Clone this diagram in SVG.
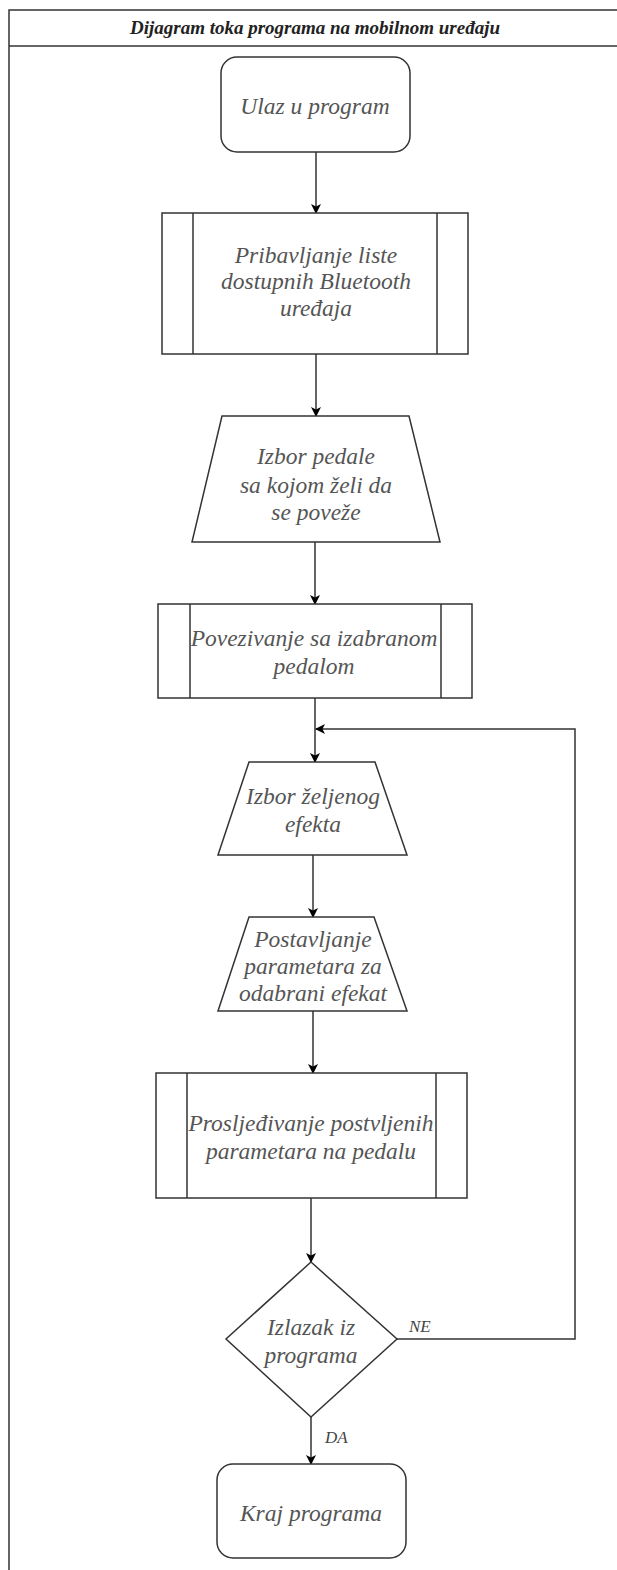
<svg xmlns="http://www.w3.org/2000/svg" width="617" height="1570" viewBox="0 0 617 1570">
<defs>
<marker id="arr" markerWidth="10" markerHeight="10" refX="9" refY="5" orient="auto" markerUnits="userSpaceOnUse">
<path d="M0,0 L10,5 L0,10 L2.5,5 Z" fill="#000"/>
</marker>
<style>
.s{fill:#fff;stroke:#333;stroke-width:1.5}
.l{fill:none;stroke:#333;stroke-width:1.5}
.c{fill:none;stroke:#333;stroke-width:1.5;marker-end:url(#arr)}
.t{font-family:"Liberation Serif","DejaVu Serif",serif;font-style:italic;font-size:23.5px;fill:#555;text-anchor:middle}
.lb{font-family:"Liberation Serif","DejaVu Serif",serif;font-style:italic;font-size:17px;fill:#444}
.h{font-family:"Liberation Serif","DejaVu Serif",serif;font-style:italic;font-weight:bold;font-size:19px;fill:#222;text-anchor:middle}
</style>
</defs>
<g id="frame">
<rect x="9" y="10" width="640" height="1600" fill="#fff" stroke="#333" stroke-width="1.5"/>
<line x1="9" y1="46" x2="617" y2="46" class="l"/>
<text x="315" y="34" class="h">Dijagram toka programa na mobilnom uređaju</text>
</g>
<g id="connectors">
<line x1="316" y1="152" x2="316" y2="213" class="c"/>
<line x1="316" y1="354" x2="316" y2="416" class="c"/>
<line x1="315" y1="542" x2="315" y2="604" class="c"/>
<line x1="315" y1="698" x2="315" y2="762" class="c"/>
<polyline points="397,1339 575,1339 575,729 316,729" class="c"/>
<line x1="313" y1="855" x2="313" y2="917" class="c"/>
<line x1="313" y1="1011" x2="313" y2="1073" class="c"/>
<line x1="311" y1="1198" x2="311" y2="1262" class="c"/>
<line x1="311" y1="1417" x2="311" y2="1464" class="c"/>
<text x="409" y="1332" class="lb">NE</text>
<text x="325" y="1443" class="lb">DA</text>
</g>
<g id="start">
<rect x="221" y="57" width="189" height="95" rx="16" class="s"/>
<text x="315" y="114" class="t">Ulaz u program</text>
</g>
<g id="p1">
<rect x="162" y="213" width="306" height="141" class="s"/>
<line x1="193" y1="213" x2="193" y2="354" class="l"/>
<line x1="437" y1="213" x2="437" y2="354" class="l"/>
<text x="316" y="263" class="t">Pribavljanje liste</text>
<text x="316" y="289" class="t">dostupnih Bluetooth</text>
<text x="316" y="316" class="t">uređaja</text>
</g>
<g id="io1">
<polygon points="222,416 409,416 440,542 192,542" class="s"/>
<text x="316" y="464" class="t">Izbor pedale</text>
<text x="316" y="493" class="t">sa kojom želi da</text>
<text x="316" y="520" class="t">se poveže</text>
</g>
<g id="p2">
<rect x="158" y="604" width="314" height="94" class="s"/>
<line x1="190" y1="604" x2="190" y2="698" class="l"/>
<line x1="441" y1="604" x2="441" y2="698" class="l"/>
<text x="314" y="646" class="t">Povezivanje sa izabranom</text>
<text x="314" y="674" class="t">pedalom</text>
</g>
<g id="io2">
<polygon points="249,762 375,762 407,855 218,855" class="s"/>
<text x="313" y="804" class="t">Izbor željenog</text>
<text x="313" y="832" class="t">efekta</text>
</g>
<g id="io3">
<polygon points="249,917 374,917 407,1011 218,1011" class="s"/>
<text x="313" y="947" class="t">Postavljanje</text>
<text x="313" y="974" class="t">parametara za</text>
<text x="313" y="1001" class="t">odabrani efekat</text>
</g>
<g id="p3">
<rect x="156" y="1073" width="311" height="125" class="s"/>
<line x1="187" y1="1073" x2="187" y2="1198" class="l"/>
<line x1="436" y1="1073" x2="436" y2="1198" class="l"/>
<text x="311" y="1131" class="t">Prosljeđivanje postvljenih</text>
<text x="311" y="1159" class="t">parametara na pedalu</text>
</g>
<g id="decision">
<polygon points="311,1262 397,1339 311,1417 226,1339" class="s"/>
<text x="311" y="1335" class="t">Izlazak iz</text>
<text x="311" y="1363" class="t">programa</text>
</g>
<g id="end">
<rect x="217" y="1464" width="189" height="94" rx="16" class="s"/>
<text x="311" y="1521" class="t">Kraj programa</text>
</g>
</svg>
